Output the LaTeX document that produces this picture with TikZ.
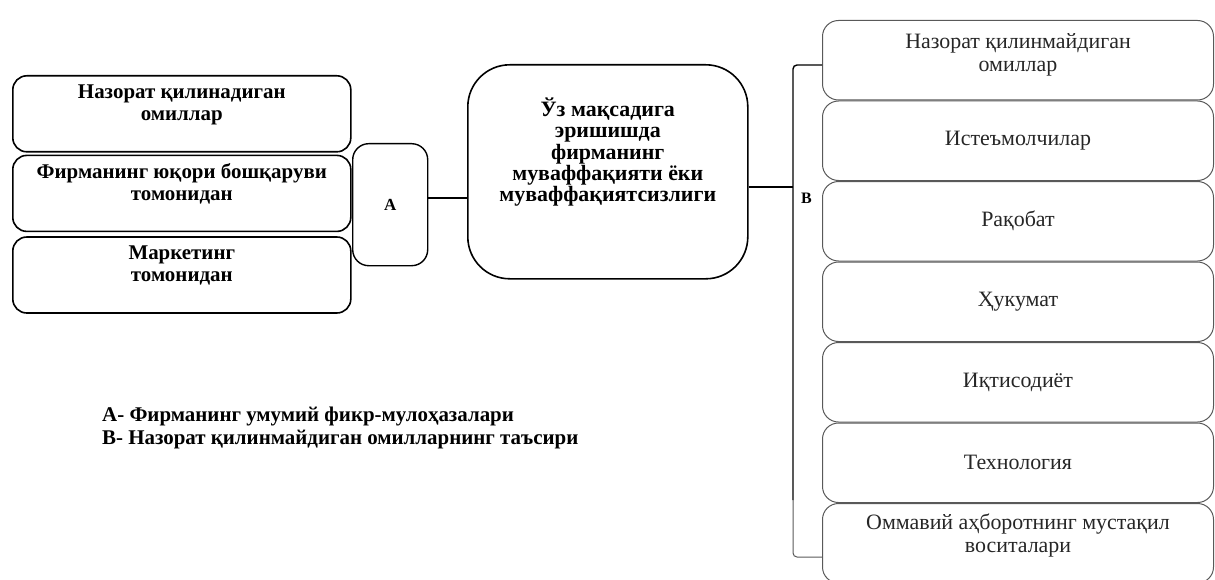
\documentclass[tikz,border=0pt]{standalone}
\usepackage{fontspec}
\setmainfont{Liberation Serif}
\usetikzlibrary{positioning}
\tikzset{lbox/.style={draw,line width=1.6bp,rounded corners=14bp,minimum width=338bp,minimum height=76bp,align=center,text depth=23bp,font=\bfseries\fontsize{21}{22}\selectfont},
abox/.style={draw,line width=1.4bp,rounded corners=16bp,minimum width=75bp,minimum height=122bp,font=\bfseries\fontsize{17}{18}\selectfont},
goal/.style={draw,line width=1.6bp,rounded corners=42bp,minimum width=280bp,minimum height=214bp,align=center,text depth=44bp,font=\bfseries\fontsize{22}{21.5}\selectfont},
rbox/.style={draw=black!65,text=black!85,line width=1bp,rounded corners=16bp,minimum width=391bp,minimum height=79.5bp,align=center,font=\fontsize{22}{23}\selectfont},
lift/.style={text depth=#1},
conn/.style={line width=1.4bp}}

\begin{document}
\begin{tikzpicture}[x=1bp,y=-1bp]
\useasboundingbox (0,0) rectangle (1215,580);
% left column
\node[lbox,anchor=north west] (l1) at (12,75) {Назорат қилинадиган\\омиллар};
\node[lbox,below=2bp of l1] (l2) {Фирманинг юқори бошқаруви\\томонидан};
\node[lbox,below=4bp of l2] (l3) {Маркетинг\\томонидан};
\node[abox,anchor=north west] (A) at (352,143) {А};
\node[goal,anchor=north west] (goal) at (467,64) {Ўз мақсадига\\эришишда\\фирманинг\\муваффақияти ёки\\муваффақиятсизлиги};
% right column
\node[rbox,lift=16bp,anchor=north west] (r1) at (822,20) {Назорат қилинмайдиган\\омиллар};
\node[rbox,below=0bp of r1] (r2) {Истеъмолчилар};
\node[rbox,below=0bp of r2] (r3) {Рақобат};
\node[rbox,below=0bp of r3] (r4) {Ҳукумат};
\node[rbox,below=0bp of r4] (r5) {Иқтисодиёт};
\node[rbox,below=0bp of r5] (r6) {Технология};
\node[rbox,lift=20bp,below=0bp of r6] (r7) {Оммавий аҳборотнинг мустақил\\воситалари};
% bracket B
\coordinate (Btop) at (793,65);
\coordinate (Bmid) at (793,187);
\coordinate (Bend) at (793,500);
\coordinate (Bbot) at (793,557);
\coordinate (Amid) at (440,198);
\draw[conn,rounded corners=4bp] (r1.west |- Btop) -- (Btop) -- (Bend);
\draw[black!65,line width=1bp,rounded corners=4bp] (Bend) -- (Bbot) -- (r7.west |- Bbot);
\node[font=\bfseries\fontsize{16}{18}\selectfont,anchor=west,inner sep=0pt] (B) at (801,198) {В};
\draw[conn] (A.east |- Amid) -- (goal.west |- Amid);
\draw[conn] (goal.east |- Bmid) -- (Bmid);
% legend
\node[anchor=north west,align=left,inner sep=0pt,font=\bfseries\fontsize{21}{23}\selectfont] (leg) at (102,407) {А- Фирманинг умумий фикр-мулоҳазалари\\В- Назорат қилинмайдиган омилларнинг таъсири};
\end{tikzpicture}
\end{document}
